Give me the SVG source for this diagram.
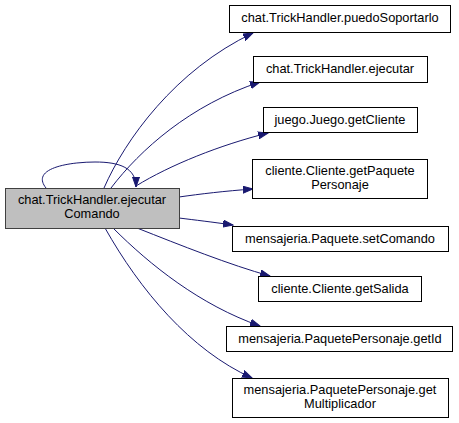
<svg xmlns="http://www.w3.org/2000/svg" width="459" height="423" viewBox="0 0 459 423">
<style>
.n rect{fill:#ffffff;stroke:#000000;stroke-width:1}
.m rect{fill:#bfbfbf;stroke:#404040;stroke-width:1}
text{font-family:"Liberation Sans",Arial,sans-serif;font-size:12.8px;fill:#000000;text-anchor:middle}
.e path{fill:none;stroke:#191970;stroke-width:1;marker-end:url(#a)}
</style>
<defs>
<marker id="a" markerUnits="userSpaceOnUse" markerWidth="11" markerHeight="8" refX="10" refY="4" orient="auto" viewBox="0 0 11 8">
<path d="M0,0.5 L10,4 L0,7.5 z" fill="#191970" stroke="#191970" stroke-width="1"/>
</marker>
</defs>
<rect width="459" height="423" fill="#ffffff"/>
<g class="e" id="edges">
<path d="M46,188 C30,168 70,162 95,162 C120,162 136,168 136,187"/>
<path d="M104,188 C125,140 175,70 253,33"/>
<path d="M111,188 C140,150 190,105 260,82"/>
<path d="M136,186 C170,165 220,145 268,133"/>
<path d="M179,197 C200,194 225,191 253,189"/>
<path d="M179,218 C195,220 212,222 233,225"/>
<path d="M137,228 C180,245 230,265 270,276"/>
<path d="M113,228 C150,265 200,305 260,326"/>
<path d="M105,228 C140,290 190,350 252,378"/>
</g>
<g id="main" class="m"><rect x="5.5" y="188.5" width="174" height="40"/><text x="92" y="204">chat.TrickHandler.ejecutar</text><text x="92" y="218">Comando</text></g>
<g id="n1" class="n"><rect x="229.5" y="5.5" width="221" height="27"/><text x="340" y="22">chat.TrickHandler.puedoSoportarlo</text></g>
<g id="n2" class="n"><rect x="253.5" y="56.5" width="174" height="26"/><text x="340" y="73">chat.TrickHandler.ejecutar</text></g>
<g id="n3" class="n"><rect x="263.5" y="107.5" width="154" height="25"/><text x="340" y="124">juego.Juego.getCliente</text></g>
<g id="n4" class="n"><rect x="252.5" y="159.5" width="175" height="39"/><text x="340" y="175">cliente.Cliente.getPaquete</text><text x="340" y="189">Personaje</text></g>
<g id="n5" class="n"><rect x="232.5" y="226.5" width="216" height="25"/><text x="340" y="243">mensajeria.Paquete.setComando</text></g>
<g id="n6" class="n"><rect x="258.5" y="276.5" width="163" height="25"/><text x="340" y="293">cliente.Cliente.getSalida</text></g>
<g id="n7" class="n"><rect x="226.5" y="326.5" width="226" height="25"/><text x="340" y="343">mensajeria.PaquetePersonaje.getId</text></g>
<g id="n8" class="n"><rect x="232.5" y="378.5" width="216" height="39"/><text x="340" y="394">mensajeria.PaquetePersonaje.get</text><text x="340" y="408">Multiplicador</text></g>
</svg>
